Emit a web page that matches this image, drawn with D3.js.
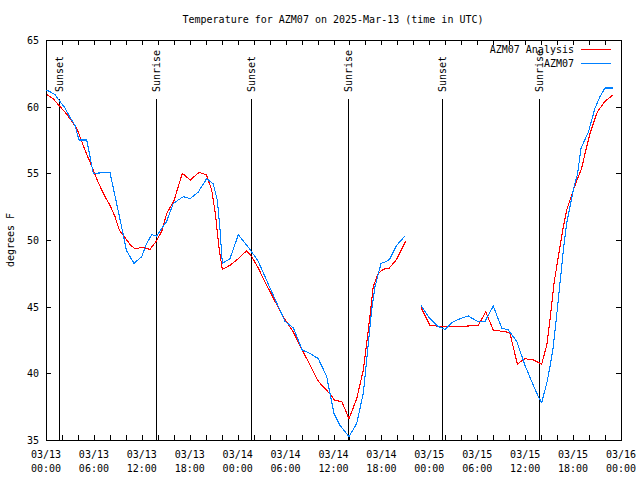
<!DOCTYPE html>
<html><head><meta charset="utf-8">
<script src="https://cdn.jsdelivr.net/npm/d3@7"></script>
<style>
html,body{margin:0;padding:0;background:#fff;}
svg{display:block;}
text{font-family:"DejaVu Sans Mono","Liberation Mono",monospace;font-size:10px;fill:#000;}
</style></head><body>
<svg id="c" width="640" height="480"></svg>
<script>
// ---- data (hours after 2025-03-13 00:00 UTC) ----
const analysisHours = [0.09,0.91,1.67,2.38,3.0,3.84,4.88,5.92,6.55,7.39,8.01,8.64,9.18,10.52,11.14,11.98,13.02,13.86,14.56,15.11,16.0,17.07,18.07,19.16,20.08,20.75,21.2,21.7,22.08,23.04,24.08,25.13,25.76,26.58,27.21,28.68,29.71,30.97,32.22,34.1,35.56,36.19,37.03,37.94,38.91,39.73,40.36,40.98,41.61,42.24,42.99,43.91,45.04,46.0,46.96,48.08,49.75,51.63,54.13,55.06,56.01,57.69,58.1,59.02,59.98,61.02,62.07,62.7,63.11,63.61,64.36,64.78,65.2,66.12,67.08,67.5,68.12,69.03,70.0,71.04];
const analysisTemps = [60.9,60.6,60.05,59.6,59.1,58.4,56.75,55.25,54.3,53.25,52.6,51.75,50.75,49.67,49.33,49.45,49.3,49.95,50.75,52.0,52.9,55.0,54.5,55.07,54.9,53.75,52.0,49.25,47.8,48.1,48.6,49.2,48.75,47.9,47.1,45.4,44.25,43.1,41.6,39.4,38.45,37.95,37.9,36.6,38.1,40.25,43.25,46.5,47.5,47.8,47.9,48.55,49.9,null,44.95,43.6,43.5,43.5,43.6,44.6,43.25,43.1,43.0,40.7,41.1,41.0,40.7,42.1,44.0,46.75,49.5,51.0,52.25,53.9,55.4,56.5,58.0,59.6,60.4,60.9];
const stationHours = [0.09,0.63,1.13,1.67,2.38,3.0,3.63,4.13,5.1,5.92,8.01,9.55,10.08,11.02,11.98,12.61,13.24,13.86,15.11,15.94,17.19,18.03,19.07,20.12,20.95,21.45,21.79,22.08,23.04,24.08,25.54,26.17,26.58,28.05,29.93,30.97,32.09,33.06,34.1,35.15,35.56,36.06,36.81,37.94,38.91,39.73,40.78,41.2,41.95,42.66,43.08,43.91,44.95,46.0,46.96,47.87,49.0,49.96,50.8,51.84,52.88,54.01,54.97,56.01,57.06,57.89,58.94,59.98,61.02,61.65,62.07,62.7,63.11,63.52,64.15,64.78,65.2,66.12,66.54,67.0,67.92,68.75,69.37,70.0,71.04];
const stationTemps = [61.25,61.07,60.9,60.45,59.9,59.2,58.6,57.5,57.5,55.0,55.07,50.75,49.2,48.25,48.75,49.75,50.4,50.3,51.4,52.75,53.25,53.1,53.6,54.6,54.2,53.0,50.75,48.25,48.6,50.4,49.3,48.75,48.4,46.4,43.9,43.4,41.75,41.5,41.1,39.75,38.5,37.0,36.1,35.25,36.25,38.5,44.75,46.5,48.25,48.4,48.6,49.6,50.3,null,45.1,44.25,43.55,43.3,43.8,44.1,44.3,43.9,43.9,45.05,43.4,43.25,42.4,40.6,39.1,38.25,37.8,39.25,40.5,42.0,45.5,49.25,51.25,54.0,54.9,56.9,58.1,59.9,60.75,61.4,61.4];
const sunsetHours = [1.67,25.62,49.62];
const sunriseHours = [13.8,37.85,61.77];
const yTicks = [35,40,45,50,55,60,65];
const xLabelDates = ["03/13","03/13","03/13","03/13","03/14","03/14","03/14","03/14","03/15","03/15","03/15","03/15","03/16"];
const xLabelTimes = ["00:00","06:00","12:00","18:00","00:00","06:00","12:00","18:00","00:00","06:00","12:00","18:00","00:00"];
const seriesNames = ["AZM07 Analysis","AZM07"];
const seriesColors = ["#ff0000","#0080ff"];

const t0 = Date.UTC(2025,2,13,0,0);
const toDate = h => new Date(t0 + h*3600000);
const L=46, R=621, T=40, B=440;
const x = d3.scaleUtc().domain([toDate(0), toDate(72)]).range([L,R]);
const y = d3.scaleLinear().domain([35,65]).range([B,T]);
const svg = d3.select("#c");

svg.append("text").attr("x",333).attr("y",23).attr("text-anchor","middle")
  .text("Temperature for AZM07 on 2025-Mar-13 (time in UTC)");

// axes with inward ticks
const tickHours = d3.range(0,73,2).map(toDate);
const g = svg.append("g").attr("shape-rendering","crispEdges");
const axB = d3.axisBottom(x).tickValues(tickHours).tickSizeInner(-5).tickSizeOuter(0).tickFormat("");
const axT = d3.axisTop(x).tickValues(tickHours).tickSizeInner(-5).tickSizeOuter(0).tickFormat("");
const axL = d3.axisLeft(y).tickValues(yTicks).tickSizeInner(-5).tickSizeOuter(0).tickFormat("");
const axR = d3.axisRight(y).tickValues(yTicks).tickSizeInner(-5).tickSizeOuter(0).tickFormat("");
g.append("g").attr("transform",`translate(0,${B})`).call(axB);
g.append("g").attr("transform",`translate(0,${T})`).call(axT);
g.append("g").attr("transform",`translate(${L},0)`).call(axL);
g.append("g").attr("transform",`translate(${R},0)`).call(axR);
g.selectAll(".domain").remove();
g.selectAll("line").attr("stroke","#000");
g.append("rect").attr("x",L).attr("y",T).attr("width",R-L).attr("height",B-T)
  .attr("fill","none").attr("stroke","#000");

// y labels
svg.append("g").selectAll("text").data(yTicks).join("text")
  .attr("x",L-7).attr("y",d=>y(d)+4).attr("text-anchor","end").text(d=>d);
// x labels
const labelHours = d3.range(0,73,6);
const xl = svg.append("g").selectAll("g").data(labelHours).join("g")
  .attr("transform",(d)=>`translate(${x(toDate(d))},0)`);
xl.append("text").attr("y",458).attr("text-anchor","middle").text((d,i)=>xLabelDates[i]);
xl.append("text").attr("y",472).attr("text-anchor","middle").text((d,i)=>xLabelTimes[i]);
// y axis title
svg.append("text").attr("transform","translate(14,240) rotate(-90)").attr("text-anchor","middle").text("degrees F");

// sunrise/sunset lines
const events = sunsetHours.map(h=>({h,name:"Sunset"})).concat(sunriseHours.map(h=>({h,name:"Sunrise"})));
const ev = svg.append("g");
ev.selectAll("line").data(events).join("line")
  .attr("x1",d=>Math.round(x(toDate(d.h)))+0.5).attr("x2",d=>Math.round(x(toDate(d.h)))+0.5)
  .attr("y1",99).attr("y2",B).attr("stroke","#000").attr("shape-rendering","crispEdges");
ev.selectAll("text").data(events).join("text")
  .attr("transform",d=>`translate(${Math.round(x(toDate(d.h)))+4},92) rotate(-90)`)
  .text(d=>d.name);

// data lines
const line = d3.line().defined(d=>d.v!==null).x(d=>x(toDate(d.h))).y(d=>y(d.v));
const series = [
  analysisHours.map((h,i)=>({h,v:analysisTemps[i]})),
  stationHours.map((h,i)=>({h,v:stationTemps[i]}))
];
svg.append("g").selectAll("path").data(series).join("path")
  .attr("d",line).attr("fill","none").attr("stroke",(d,i)=>seriesColors[i]).attr("stroke-width",1.1)
  .attr("shape-rendering","crispEdges");

// legend
const lg = svg.append("g").selectAll("g").data(seriesNames).join("g")
  .attr("transform",(d,i)=>`translate(0,${49+i*14})`);
lg.append("text").attr("x",574).attr("y",4).attr("text-anchor","end").text(d=>d);
lg.append("line").attr("x1",581).attr("x2",611).attr("y1",0.5).attr("y2",0.5)
  .attr("stroke",(d,i)=>seriesColors[i]).attr("shape-rendering","crispEdges");
</script>
</body></html>
